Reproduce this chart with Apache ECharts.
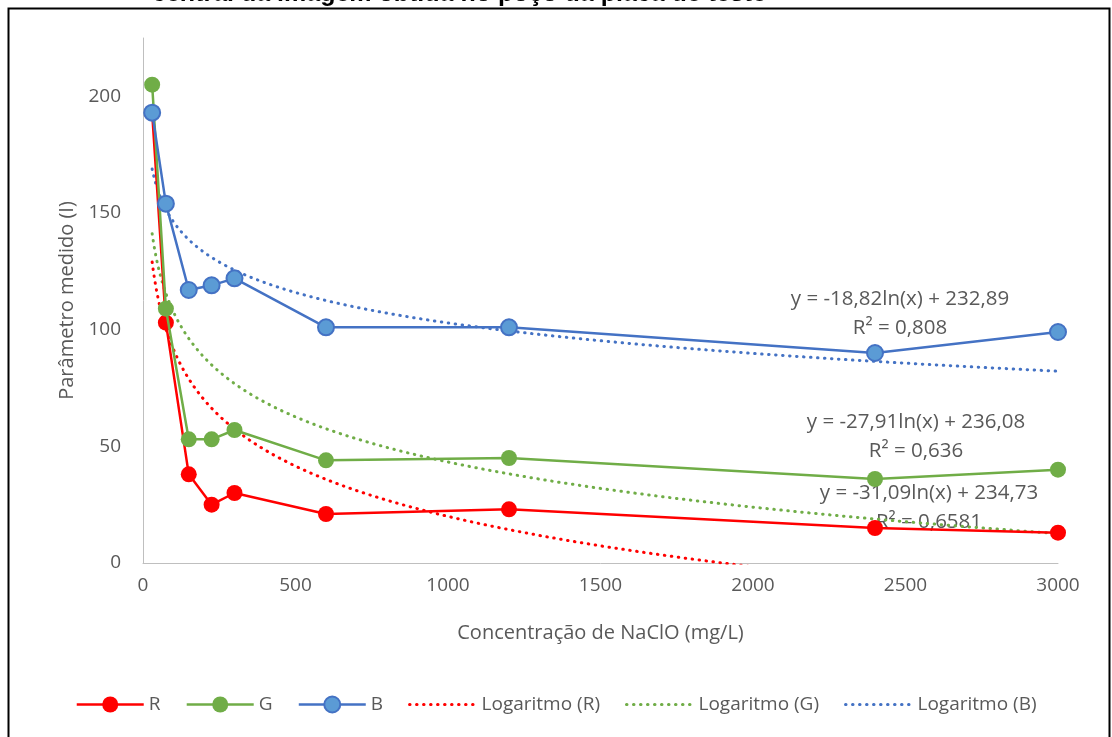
<!DOCTYPE html>
<html>
<head>
<meta charset="utf-8">
<script src="https://cdn.jsdelivr.net/npm/echarts@6/dist/echarts.min.js"></script>
<style>
html,body{margin:0;padding:0;background:#fff;}
#chart{width:1112px;height:737px;}
</style>
</head>
<body>
<div id="chart"></div>
<script>
// ---- data ----
const concentrations = [30, 75, 150, 225, 300, 600, 1200, 2400, 3000];
const valuesR = [193, 103, 38, 25, 30, 21, 23, 15, 13];
const valuesG = [205, 109, 53, 53, 57, 44, 45, 36, 40];
const valuesB = [193, 154, 117, 119, 122, 101, 101, 90, 99];
const seriesNames = ['R', 'G', 'B'];
const trendNames = ['Logaritmo (R)', 'Logaritmo (G)', 'Logaritmo (B)'];
// logarithmic trendline coefficients y = a ln(x) + b (as printed on the chart)
const trendA = [-31.09, -27.91, -18.82];
const trendB = [234.73, 236.08, 232.89];
const trendEquations = ['y = -31,09ln(x) + 234,73', 'y = -27,91ln(x) + 236,08', 'y = -18,82ln(x) + 232,89'];
const trendR2 = ['R² = 0,6581', 'R² = 0,636', 'R² = 0,808'];
const xTicks = [0, 500, 1000, 1500, 2000, 2500, 3000];
const yTicks = [0, 50, 100, 150, 200];
const titleText = 'central da imagem obtida no poço da placa de teste';
const xAxisTitle = 'Concentração de NaClO (mg/L)';
const yAxisTitle = 'Parâmetro medido (I)';

const FONT = '"Open Sans", "Noto Sans", sans-serif';
const TXT = '#595959';
const colors = ['#ff0000', '#70ad47', '#4472c4'];
const fills = ['#ff0000', '#70ad47', '#5b9bd5'];
const allValues = [valuesR, valuesG, valuesB];

function trendPoints(i) {
  const pts = [];
  const x0 = concentrations[0], x1 = concentrations[concentrations.length - 1];
  const n = 400;
  for (let k = 0; k <= n; k++) {
    const x = x0 * Math.pow(x1 / x0, k / n);
    pts.push([x, trendA[i] * Math.log(x) + trendB[i]]);
  }
  return pts;
}

const series = [];
for (let i = 0; i < 3; i++) {
  series.push({
    name: trendNames[i],
    type: 'line',
    data: trendPoints(i),
    showSymbol: false,
    symbol: 'none',
    clip: true,
    z: 1,
    lineStyle: { color: colors[i], width: 3, type: [0.5, 6.5], cap: 'round' },
    itemStyle: { color: colors[i] },
    animation: false
  });
}
for (let i = 0; i < 3; i++) {
  series.push({
    name: seriesNames[i],
    type: 'line',
    data: concentrations.map((x, k) => [x, allValues[i][k]]),
    symbol: 'circle',
    symbolSize: 16,
    z: 3 + i,
    lineStyle: { color: colors[i], width: 2.5 },
    itemStyle: { color: fills[i], borderColor: colors[i], borderWidth: i === 2 ? 2 : 0 },
    animation: false
  });
}

const legendData = seriesNames.map(n => ({ name: n, lineStyle: { width: 2.5 } })).concat(
  trendNames.map(n => ({ name: n, itemStyle: { opacity: 0 }, lineStyle: { width: 3 } }))
);

const chart = echarts.init(document.getElementById('chart'), null, { renderer: 'canvas' });
chart.setOption({
  backgroundColor: '#ffffff',
  animation: false,
  grid: { left: 143, right: 54, top: 38, bottom: 174 },
  xAxis: {
    type: 'value', min: xTicks[0], max: xTicks[xTicks.length - 1], interval: 500,
    axisLine: { show: true, lineStyle: { color: '#bfbfbf', width: 1 } },
    axisTick: { show: false },
    splitLine: { show: false },
    axisLabel: { color: TXT, fontFamily: FONT, fontSize: 19, margin: 13, formatter: v => String(v) },
    name: xAxisTitle, nameLocation: 'middle', nameGap: 60,
    nameTextStyle: { color: TXT, fontFamily: FONT, fontSize: 20 }
  },
  yAxis: {
    type: 'value', min: 0, max: 225, interval: 50,
    axisLine: { show: true, lineStyle: { color: '#bfbfbf', width: 1 } },
    axisTick: { show: false },
    splitLine: { show: false },
    axisLabel: { color: TXT, fontFamily: FONT, fontSize: 19, margin: 22, showMaxLabel: false, formatter: v => String(v) },
    name: yAxisTitle, nameLocation: 'middle', nameGap: 66, nameRotate: 90,
    nameTextStyle: { color: TXT, fontFamily: FONT, fontSize: 20 }
  },
  legend: {
    data: legendData,
    bottom: 18, left: 'center',
    itemWidth: 67, itemHeight: 20, itemGap: 25,
    textStyle: { color: TXT, fontFamily: FONT, fontSize: 19 }
  },
  series: series,
  graphic: [
    { type: 'rect', shape: { x: 8.5, y: 8.5, width: 1101, height: 740 }, style: { fill: 'none', stroke: '#000', lineWidth: 2 }, silent: true },
    { type: 'text', x: 152, y: 7, style: { text: titleText, font: 'bold 25px "Liberation Sans", Arial, sans-serif', fill: '#000', verticalAlign: 'bottom', align: 'left' } },
    { type: 'text', x: 900, y: 299, style: { text: trendEquations[2], font: '20.5px ' + FONT, fill: TXT, align: 'center', verticalAlign: 'middle' } },
    { type: 'text', x: 900, y: 328, style: { text: trendR2[2], font: '20.5px ' + FONT, fill: TXT, align: 'center', verticalAlign: 'middle' } },
    { type: 'text', x: 916, y: 422, style: { text: trendEquations[1], font: '20.5px ' + FONT, fill: TXT, align: 'center', verticalAlign: 'middle' } },
    { type: 'text', x: 916, y: 451, style: { text: trendR2[1], font: '20.5px ' + FONT, fill: TXT, align: 'center', verticalAlign: 'middle' } },
    { type: 'text', x: 929, y: 493, style: { text: trendEquations[0], font: '20.5px ' + FONT, fill: TXT, align: 'center', verticalAlign: 'middle' } },
    { type: 'text', x: 929, y: 522, style: { text: trendR2[0], font: '20.5px ' + FONT, fill: TXT, align: 'center', verticalAlign: 'middle' } }
  ]
});
</script>
</body>
</html>
